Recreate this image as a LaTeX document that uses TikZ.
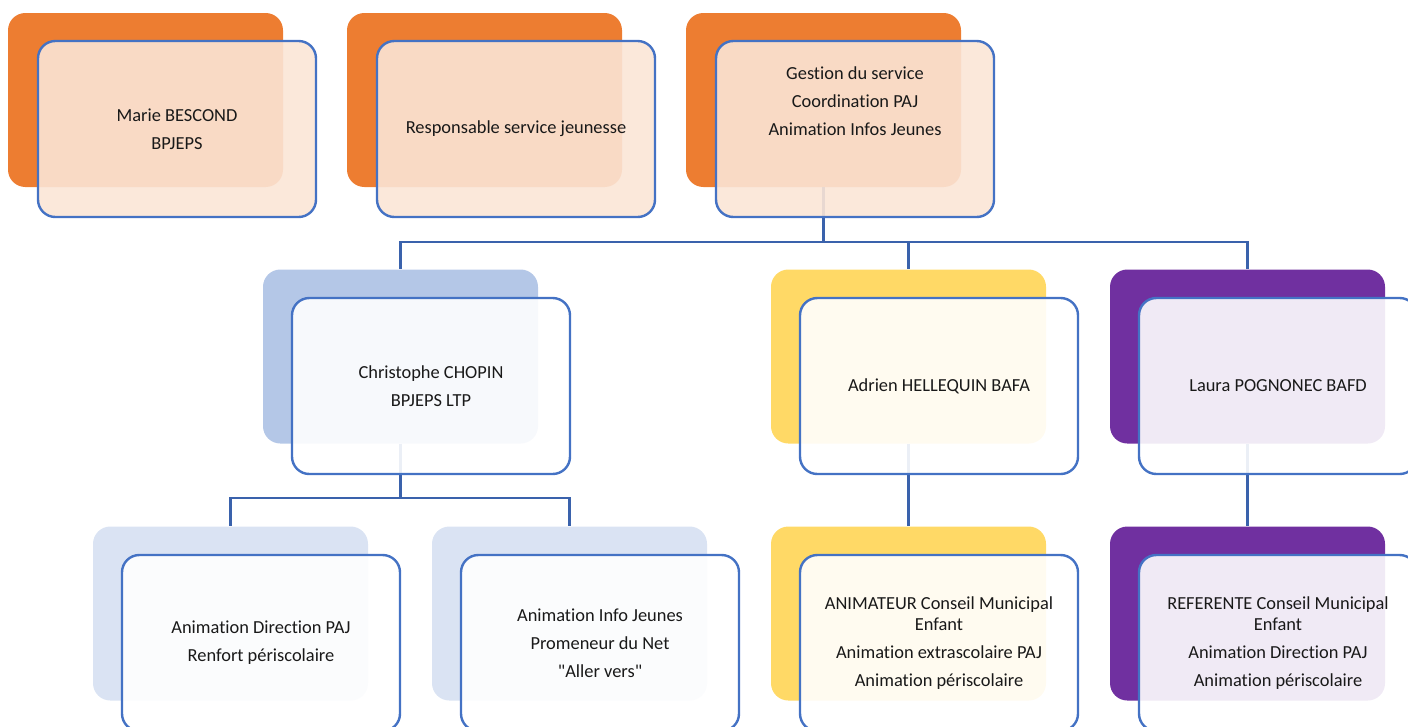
\documentclass[tikz,border=0pt]{standalone}
\usepackage{fontspec}
\setmainfont{Carlito}[Ligatures={CommonOff}]
\usepackage{tikz}
\usetikzlibrary{backgrounds}

\definecolor{orgback}{HTML}{ED7D31}
\definecolor{orgfront}{HTML}{FBE5D6}
\definecolor{bluedark}{HTML}{B4C7E7}
\definecolor{bluelight}{HTML}{DAE3F3}
\definecolor{yelback}{HTML}{FFD966}
\definecolor{purback}{HTML}{7030A0}
\definecolor{frameblue}{HTML}{4472C4}
\definecolor{linkblue}{HTML}{3A62AC}

\begin{document}
\begin{tikzpicture}[x=0.75pt,y=-0.75pt,
  back/.style={rounded corners=13pt,minimum width=206.25pt,minimum height=130.5pt,inner sep=0pt},
  front/.style={draw=frameblue,line width=1.8pt,rounded corners=13pt,fill=white,fill opacity=0.9,text opacity=1,
    minimum width=208.5pt,minimum height=132pt,inner sep=0pt,align=center,
    font=\fontsize{13.8}{21}\selectfont,text=black!90},
  orgbox/.style={front,fill=orgfront},
  link/.style={draw=linkblue,line width=1.8pt}]
\useasboundingbox (0,0) rectangle (1408,726);

% coloured boxes behind
\node[back,fill=orgback] (marb) at (145.5,100) {};
\node[back,fill=orgback] (resb) at (484.5,100) {};
\node[back,fill=orgback] (gesb) at (823.5,100) {};
\node[back,fill=bluedark] (chrb) at (400.5,356.5) {};
\node[back,fill=yelback] (adrb) at (908.5,356.5) {};
\node[back,fill=purback] (laub) at (1247.5,356.5) {};
\node[back,fill=bluelight] (dirb) at (230.5,613.5) {};
\node[back,fill=bluelight] (infb) at (569.5,613.5) {};
\node[back,fill=yelback] (cmeb) at (908.5,613.5) {};
\node[back,fill=purback] (refb) at (1247.5,613.5) {};

% links
\draw[link] (gesb.south) -- ++(0,55) -| (chrb.north);
\draw[link] (gesb.south) -- ++(0,55) -| (adrb.north);
\draw[link] (gesb.south) -- ++(0,55) -| (laub.north);
\draw[link] (chrb.south) -- ++(0,54) -| (dirb.north);
\draw[link] (chrb.south) -- ++(0,54) -| (infb.north);
\draw[link] (adrb.south) -- (cmeb.north);
\draw[link] (laub.south) -- (refb.north);

% boxes in front
\node[orgbox] (marf) at (177,129) {Marie BESCOND\\BPJEPS};
\node[orgbox] (resf) at (516,129) {Responsable service jeunesse};
\node[orgbox] (gesf) at (855,129) {Gestion du service\\Coordination PAJ\\Animation Infos Jeunes\\~\\~};
\node[front] (chrf) at (431,386) {Christophe CHOPIN\\BPJEPS LTP};
\node[front] (adrf) at (939,386) {Adrien HELLEQUIN BAFA};
\node[front] (lauf) at (1278,386) {Laura POGNONEC BAFD};
\node[front] (dirf) at (261,643) {Animation Direction PAJ\\Renfort périscolaire};
\node[front] (inff) at (600,643) {Animation Info Jeunes\\Promeneur du Net\\\textquotedbl Aller vers\textquotedbl};
\node[front] (cmef) at (939,643) {ANIMATEUR Conseil Municipal\\[-5.25pt]Enfant\\Animation extrascolaire PAJ\\Animation périscolaire};
\node[front] (reff) at (1278,643) {REFERENTE Conseil Municipal\\[-5.25pt]Enfant\\Animation Direction PAJ\\Animation périscolaire};
\end{tikzpicture}
\end{document}
